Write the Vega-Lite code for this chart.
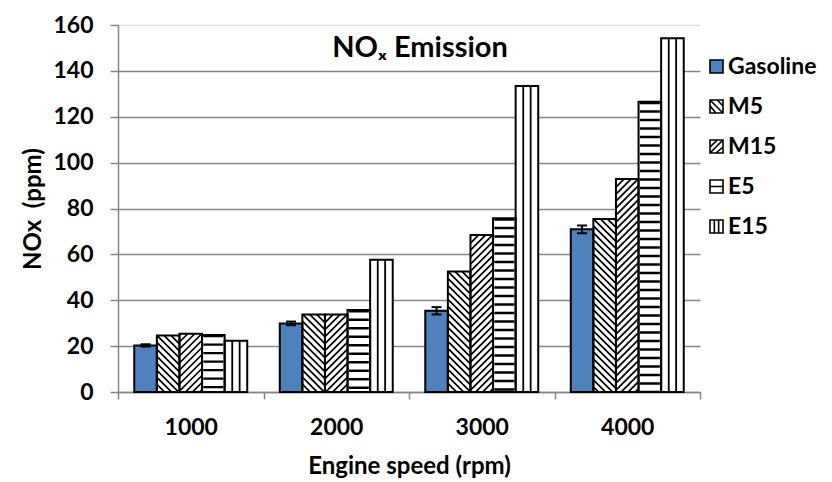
{
  "$schema": "https://vega.github.io/schema/vega-lite/v6.json",
  "width": 582,
  "height": 367,
  "autosize": "none",
  "padding": {"left": 118, "top": 25, "right": 132, "bottom": 90},
  "background": "white",
  "title": {
    "text": "NOₓ Emission",
    "font": "Lato",
    "fontSize": 29,
    "fontWeight": "bold",
    "color": "black",
    "anchor": "middle",
    "baseline": "top",
    "offset": 0,
    "dx": 11,
    "dy": 49
  },
  "data": {
    "values": [
      {"rpm": "1000", "fuel": "Gasoline", "NOx": 20.3, "lo": 19.8, "hi": 20.8},
      {"rpm": "1000", "fuel": "M5", "NOx": 24.6},
      {"rpm": "1000", "fuel": "M15", "NOx": 25.4},
      {"rpm": "1000", "fuel": "E5", "NOx": 24.9},
      {"rpm": "1000", "fuel": "E15", "NOx": 22.3},
      {"rpm": "2000", "fuel": "Gasoline", "NOx": 29.9, "lo": 29.1, "hi": 30.7},
      {"rpm": "2000", "fuel": "M5", "NOx": 33.8},
      {"rpm": "2000", "fuel": "M15", "NOx": 33.8},
      {"rpm": "2000", "fuel": "E5", "NOx": 35.7},
      {"rpm": "2000", "fuel": "E15", "NOx": 57.7},
      {"rpm": "3000", "fuel": "Gasoline", "NOx": 35.4, "lo": 33.8, "hi": 37.0},
      {"rpm": "3000", "fuel": "M5", "NOx": 52.5},
      {"rpm": "3000", "fuel": "M15", "NOx": 68.5},
      {"rpm": "3000", "fuel": "E5", "NOx": 75.7},
      {"rpm": "3000", "fuel": "E15", "NOx": 133.4},
      {"rpm": "4000", "fuel": "Gasoline", "NOx": 70.9, "lo": 69.2, "hi": 72.6},
      {"rpm": "4000", "fuel": "M5", "NOx": 75.4},
      {"rpm": "4000", "fuel": "M15", "NOx": 92.9},
      {"rpm": "4000", "fuel": "E5", "NOx": 126.5},
      {"rpm": "4000", "fuel": "E15", "NOx": 154.2}
    ]
  },
  "encoding": {
    "x": {
      "field": "rpm",
      "type": "ordinal",
      "title": "Engine speed (rpm)",
      "scale": {"paddingInner": 0, "paddingOuter": 0},
      "axis": {"labelAngle": 0, "tickBand": "extent"}
    },
    "xOffset": {
      "field": "fuel",
      "type": "nominal",
      "scale": {"domain": ["Gasoline", "M5", "M15", "E5", "E15"], "paddingInner": 0, "paddingOuter": 0.72}
    }
  },
  "layer": [
    {
      "mark": {"type": "bar", "strokeWidth": 0},
      "encoding": {
        "y": {
          "field": "NOx",
          "type": "quantitative",
          "title": "NOx \u00a0(ppm)",
          "scale": {"domain": [0, 160], "nice": false},
          "axis": {
            "values": [0, 20, 40, 60, 80, 100, 120, 140, 160],
            "grid": true,
            "gridColor": {"condition": {"test": "datum.value === 160", "value": "#e0e0e0"}, "value": "#868686"}
          }
        },
        "color": {
          "field": "fuel",
          "type": "nominal",
          "scale": {"domain": ["Gasoline", "M5", "M15", "E5", "E15"], "range": ["#4F81BD", "white", "white", "white", "white"]},
          "legend": {
            "orient": "none",
            "legendX": 587,
            "legendY": 30,
            "title": null,
            "symbolType": "square",
            "symbolSize": 169,
            "symbolStrokeColor": "black",
            "symbolStrokeWidth": 1.5,
            "labelFont": "Lato",
            "labelFontSize": 23,
            "labelFontWeight": "bold",
            "labelColor": "black",
            "labelOffset": 0,
            "rowPadding": 16,
            "encode": {
              "symbols": {
                "update": {
                  "stroke": {"value": "black"},
                  "strokeWidth": {"value": 1.6},
                  "opacity": {"value": 1},
                  "fill": {"signal": "datum.value === 'Gasoline' ? '#4F81BD' : 'white'"},
                  "shape": {"signal": "datum.value === 'M5' ? 'M-1,-1H1V1H-1ZM-1,-1L1,1M-1,-0.1L-0.1,1M0.1,-1L1,-0.1' : datum.value === 'M15' ? 'M-1,-1H1V1H-1ZM-1,1L1,-1M-1,0.1L0.1,-1M-0.1,1L1,0.1' : datum.value === 'E5' ? 'M-1,-1H1V1H-1ZM-1,0H1' : datum.value === 'E15' ? 'M-1,-1H1V1H-1ZM-0.33,-1V1M0.33,-1V1' : 'square'"}
                }
              }
            }
          }
        }
      }
    },
    {
      "transform": [{"filter": "datum.fuel === 'E5'"}],
      "mark": {"type": "rule", "color": "black", "strokeWidth": 20, "strokeDash": [2.3, 6.2], "strokeCap": "butt"},
      "encoding": {
        "y": {"field": "NOx", "type": "quantitative", "title": "NOx \u00a0(ppm)", "scale": {"domain": [0, 160], "nice": false}},
        "y2": {"datum": 0}
      }
    },
    {
      "transform": [{"filter": "datum.fuel === 'E15'"}],
      "mark": {"type": "rule", "color": "black", "strokeWidth": 9.2, "strokeCap": "butt"},
      "encoding": {
        "y": {"field": "NOx", "type": "quantitative", "title": "NOx \u00a0(ppm)", "scale": {"domain": [0, 160], "nice": false}},
        "y2": {"datum": 0}
      }
    },
    {
      "transform": [{"filter": "datum.fuel === 'E15'"}],
      "mark": {"type": "rule", "color": "white", "strokeWidth": 5.6, "strokeCap": "butt"},
      "encoding": {
        "y": {"field": "NOx", "type": "quantitative", "title": "NOx \u00a0(ppm)", "scale": {"domain": [0, 160], "nice": false}},
        "y2": {"datum": 0}
      }
    },
    {
      "transform": [{"filter": "datum.fuel === 'M5'"}],
      "mark": {
        "type": "point",
        "shape": "M10,0L11,1M3,0L11,8M-4,0L11,15M-11,0l22,22M-11,7l22,22M-11,14l22,22M-11,21l22,22M-11,28l22,22M-11,35l22,22M-11,42l22,22M-11,49l22,22M-11,56l22,22M-11,63l22,22M-11,70l22,22M-11,77l22,22M-11,84l22,22M-11,91l22,22M-11,98l22,22M-11,105l22,22M-11,112l22,22M-11,119l22,22M-11,126l22,22M-11,133l22,22M-11,140l22,22M-11,147l22,22M-11,154l22,22M-11,161l22,22M-11,168l22,22M-11,175l22,22M-11,182l22,22M-11,189l22,22M-11,196l22,22M-11,203l22,22M-11,210l22,22M-11,217l22,22",
        "size": 4,
        "filled": false,
        "stroke": "black",
        "strokeWidth": 1.7,
        "opacity": 1,
        "clip": true
      },
      "encoding": {
        "y": {"field": "NOx", "type": "quantitative", "title": "NOx \u00a0(ppm)", "scale": {"domain": [0, 160], "nice": false}}
      }
    },
    {
      "transform": [{"filter": "datum.fuel === 'M15'"}],
      "mark": {
        "type": "point",
        "shape": "M-10,0L-11,1M-3,0L-11,8M4,0L-11,15M11,0l-22,22M11,7l-22,22M11,14l-22,22M11,21l-22,22M11,28l-22,22M11,35l-22,22M11,42l-22,22M11,49l-22,22M11,56l-22,22M11,63l-22,22M11,70l-22,22M11,77l-22,22M11,84l-22,22M11,91l-22,22M11,98l-22,22M11,105l-22,22M11,112l-22,22M11,119l-22,22M11,126l-22,22M11,133l-22,22M11,140l-22,22M11,147l-22,22M11,154l-22,22M11,161l-22,22M11,168l-22,22M11,175l-22,22M11,182l-22,22M11,189l-22,22M11,196l-22,22M11,203l-22,22M11,210l-22,22M11,217l-22,22",
        "size": 4,
        "filled": false,
        "stroke": "black",
        "strokeWidth": 1.7,
        "opacity": 1,
        "clip": true
      },
      "encoding": {
        "y": {"field": "NOx", "type": "quantitative", "title": "NOx \u00a0(ppm)", "scale": {"domain": [0, 160], "nice": false}}
      }
    },
    {
      "mark": {"type": "bar", "fillOpacity": 0, "stroke": "black", "strokeWidth": 2},
      "encoding": {
        "y": {"field": "NOx", "type": "quantitative", "title": "NOx \u00a0(ppm)", "scale": {"domain": [0, 160], "nice": false}}
      }
    },
    {
      "transform": [{"filter": "datum.fuel === 'Gasoline'"}],
      "mark": {"type": "rule", "color": "black", "strokeWidth": 2},
      "encoding": {
        "y": {"field": "lo", "type": "quantitative", "title": "NOx \u00a0(ppm)", "scale": {"domain": [0, 160], "nice": false}},
        "y2": {"field": "hi"}
      }
    },
    {
      "transform": [{"filter": "datum.fuel === 'Gasoline'"}],
      "mark": {"type": "tick", "orient": "horizontal", "color": "black", "size": 10, "thickness": 2, "opacity": 1},
      "encoding": {
        "y": {"field": "lo", "type": "quantitative", "title": "NOx \u00a0(ppm)", "scale": {"domain": [0, 160], "nice": false}}
      }
    },
    {
      "transform": [{"filter": "datum.fuel === 'Gasoline'"}],
      "mark": {"type": "tick", "orient": "horizontal", "color": "black", "size": 10, "thickness": 2, "opacity": 1},
      "encoding": {
        "y": {"field": "hi", "type": "quantitative", "title": "NOx \u00a0(ppm)", "scale": {"domain": [0, 160], "nice": false}}
      }
    }
  ],
  "config": {
    "view": {"stroke": null},
    "axis": {
      "domainColor": "#868686",
      "domainWidth": 1.5,
      "tickColor": "#868686",
      "tickWidth": 1.5,
      "labelFont": "Lato",
      "labelFontSize": 23,
      "labelFontWeight": "bold",
      "labelColor": "black",
      "titleFont": "Lato",
      "titleFontSize": 24,
      "titleFontWeight": "bold",
      "titleColor": "black"
    },
    "axisY": {"tickSize": 8, "labelPadding": 17, "titlePadding": 7, "gridWidth": 1.5},
    "axisX": {"tickSize": 7, "labelPadding": 17, "titlePadding": 15, "grid": false}
  }
}
